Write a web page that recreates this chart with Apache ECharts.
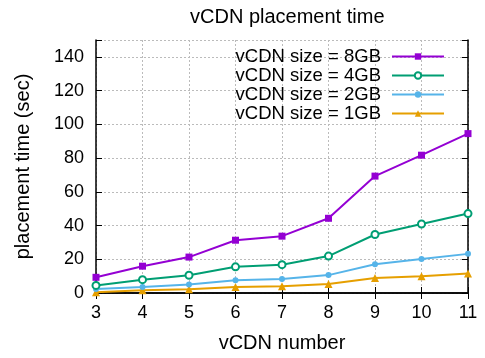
<!DOCTYPE html>
<html><head><meta charset="utf-8">
<script src="https://cdn.jsdelivr.net/npm/echarts@6/dist/echarts.min.js"></script>
<style>html,body{margin:0;padding:0;background:#fff}#c{width:485px;height:358px}</style>
</head><body><div id="c"></div>
<script>
const vcdnNumbers = [3, 4, 5, 6, 7, 8, 9, 10, 11];
const size8GB = [9.3, 15.9, 21.3, 31.3, 33.7, 44.3, 69.3, 81.7, 94.5];
const size4GB = [4.5, 7.9, 10.5, 15.5, 16.8, 21.9, 34.7, 40.9, 47.1];
const size2GB = [2.4, 3.5, 5.1, 7.5, 8.3, 10.6, 17.1, 20.1, 23.2];
const size1GB = [0.5, 1.6, 2.2, 3.5, 4.0, 5.3, 8.9, 10.0, 11.6];
const seriesNames = ['vCDN size = 8GB', 'vCDN size = 4GB', 'vCDN size = 2GB', 'vCDN size = 1GB'];
const yTicks = [0, 20, 40, 60, 80, 100, 120, 140];

const font = 'Liberation Sans, Arial, sans-serif';
const chart = echarts.init(document.getElementById('c'));
function pts(v){ return vcdnNumbers.map((x,i)=>[x, v[i]]); }
const colors = ['#9400d3', '#009e73', '#56b4e9', '#e69f00'];
const symbols = ['rect', 'emptyCircle', 'circle', 'triangle'];
const sizes = [7, 7, 6, 8];
const data = [size8GB, size4GB, size2GB, size1GB];
const grid = {left: 96, right: 17, top: 40, bottom: 64};
const axisLine = {show: true, lineStyle: {color: '#000', width: 1.5}};
const tick = {inside: true, length: 6, lineStyle: {color: '#000'}};
chart.setOption({
  animation: false,
  title: {text: 'vCDN placement time', left: 185, top: 2, textStyle: {fontFamily: font, fontSize: 20, fontWeight: 'normal', color: '#000'}},
  legend: {
    right: 35, top: 42, orient: 'vertical', align: 'right', itemGap: 0,
    itemWidth: 52, itemHeight: 8,
    textStyle: {fontFamily: font, fontSize: 18.5, color: '#000', padding: [0, 6, 0, 0]},
    data: seriesNames
  },
  grid: grid,
  xAxis: [{
    type: 'value', min: 3, max: 11, interval: 1,
    name: 'vCDN number', nameLocation: 'middle', nameGap: 40,
    nameTextStyle: {fontFamily: font, fontSize: 20, color: '#000'},
    axisLine: axisLine, axisTick: tick,
    axisLabel: {fontFamily: font, fontSize: 18, color: '#000', margin: 11},
    splitLine: {show: true, lineStyle: {color: '#bbb', type: [2, 2]}}
  }, {
    type: 'value', position: 'top', min: 3, max: 11, interval: 1,
    axisLine: axisLine, axisTick: tick,
    axisLabel: {show: false}, splitLine: {show: false}
  }],
  yAxis: [{
    type: 'value', min: 0, max: 150, interval: 20,
    name: 'placement time (sec)', nameLocation: 'middle', nameGap: 63,
    nameTextStyle: {fontFamily: font, fontSize: 20, color: '#000'},
    axisLine: axisLine, axisTick: tick,
    axisLabel: {fontFamily: font, fontSize: 18, color: '#000', margin: 12,
      formatter: v => yTicks.includes(v) ? String(v) : ''},
    splitLine: {show: true, lineStyle: {color: '#bbb', type: [2, 2]}}
  }, {
    type: 'value', position: 'right', min: 0, max: 150, interval: 20,
    axisLine: axisLine, axisTick: tick,
    axisLabel: {show: false}, splitLine: {show: false}
  }],
  series: data.map((d, i) => ({
    name: seriesNames[i], type: 'line', data: pts(d),
    symbol: symbols[i], symbolSize: sizes[i],
    itemStyle: {color: colors[i], borderColor: colors[i], borderWidth: i === 1 ? 1.5 : 0},
    lineStyle: {color: colors[i], width: 2},
    z: 10 - i
  }))
});
</script></body></html>
